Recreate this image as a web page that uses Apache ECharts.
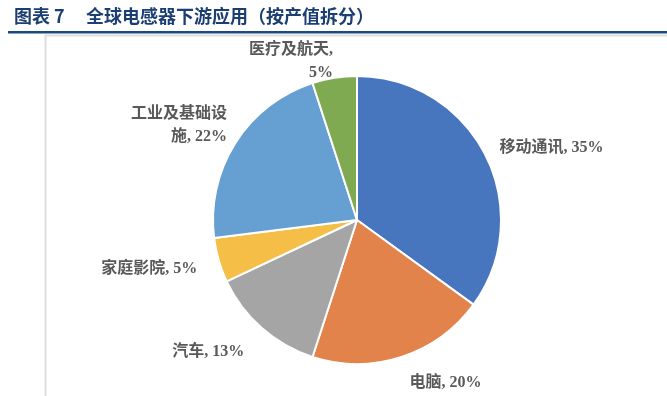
<!DOCTYPE html>
<html><head><meta charset="utf-8">
<script src="https://cdn.jsdelivr.net/npm/echarts@6/dist/echarts.min.js"></script>
<style>html,body{margin:0;padding:0;background:#fff}#c{width:667px;height:396px}</style>
</head><body><div id="c"></div>
<script>
const figureNo = '图表 7';
const titleText = '全球电感器下游应用（按产值拆分）';
const categories = ['移动通讯', '电脑', '汽车', '家庭影院', '工业及基础设施', '医疗及航天'];
const values = [35, 20, 13, 5, 22, 5];
const colors = ['#4775BE', '#E1834B', '#A5A5A5', '#F5BE46', '#66A0D2', '#7FAA52'];
const wrapWidths = {'工业及基础设施': 98, '医疗及航天': 86};
const labelNudges = {'电脑': [3, 11], '汽车': [-7, 12], '家庭影院': [-6, 4], '工业及基础设施': [5, -9], '医疗及航天': [1, -1], '移动通讯': [0, 0]};

const titleStyle = {color: '#1B3F73', fontSize: 18, fontWeight: 'bold', fontFamily: 'Noto Sans CJK SC'};
const chart = echarts.init(document.getElementById('c'), null, {renderer: 'canvas'});
chart.setOption({
  animation: false,
  title: [
    {text: figureNo, left: 9, top: 2, textStyle: titleStyle},
    {text: titleText, left: 81, top: 2, textStyle: titleStyle}
  ],
  graphic: [
    {type: 'rect', shape: {x: 8, y: 31, width: 659, height: 2.5}, style: {fill: '#1B4A7F'}},
    {type: 'polyline', shape: {points: [[45.5, 396], [45.5, 35.5], [667, 35.5]]}, style: {stroke: '#DDDDDD', lineWidth: 2, fill: null}}
  ],
  series: [{
    type: 'pie',
    center: [357, 220],
    radius: [0, 144],
    startAngle: 90,
    clockwise: true,
    itemStyle: {borderColor: '#fff', borderWidth: 2},
    label: {
      show: true, position: 'outside', distanceToLabelLine: 0,
      formatter: p => p.name + ', ' + p.value + '%',
      color: '#595959', fontSize: 16, fontWeight: 'bold',
      fontFamily: 'Liberation Serif, Noto Sans CJK SC', lineHeight: 23
    },
    labelLine: {show: false, length: 16, length2: 0},
    data: categories.map((c, i) => {
      const d = {name: c, value: values[i], itemStyle: {color: colors[i]}, label: {offset: labelNudges[c]}};
      if (wrapWidths[c]) Object.assign(d.label, {width: wrapWidths[c], overflow: 'break', align: 'center'});
      return d;
    })
  }]
});
</script></body></html>
